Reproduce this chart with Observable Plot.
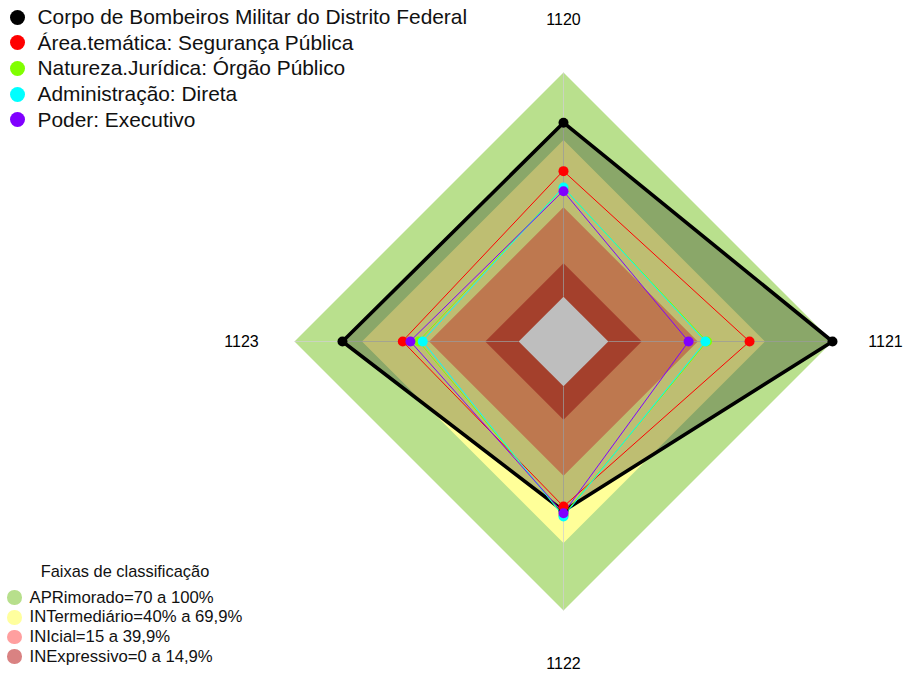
<!DOCTYPE html>
<html>
<head>
<meta charset="utf-8">
<script src="https://cdn.jsdelivr.net/npm/d3@7"></script>
<script src="https://cdn.jsdelivr.net/npm/@observablehq/plot@0.6"></script>
<style>
  body { margin: 0; background: #fff; font-family: "Liberation Sans", Arial, sans-serif; }
  #wrap { position: relative; width: 905px; height: 673px; }
  #wrap svg { position: absolute; left: 0; top: 0; }
  .leg { position: absolute; color: #111; }
  .row { display: flex; align-items: center; white-space: nowrap; }
  .dot { border-radius: 50%; flex: none; }
</style>
</head>
<body>
<div id="wrap"></div>
<script>
// ---- data ----
const axes = ["1120", "1121", "1122", "1123"];
const seriesNames = [
  "Corpo de Bombeiros Militar do Distrito Federal",
  "Área.temática: Segurança Pública",
  "Natureza.Jurídica: Órgão Público",
  "Administração: Direta",
  "Poder: Executivo"
];
const seriesColors = ["#000000", "#FF0000", "#80FF00", "#00FFFF", "#8000FF"];
const bombeiros     = [77.6, 100.0, 55.6, 78.6];
const areaTematica  = [56.0, 63.0, 53.6, 51.7];
const natureza      = [48.5, 44.0, 57.5, 44.5];
const administracao = [48.7, 43.3, 58.1, 42.8];
const poder         = [47.0, 35.8, 56.6, 48.3];
const seriesValues = [bombeiros, areaTematica, natureza, administracao, poder];

const legendTitle = "Faixas de classificação";
const bandNames = ["APRimorado=70 a 100%", "INTermediário=40% a 69,9%", "INIcial=15 a 39,9%", "INExpressivo=0 a 14,9%"];
const bandUpper = [100, 69.9, 39.9, 14.9];
const bandFill = ["#B9E08D", "#FFFF99", "#FFA16B", "#DD563C"];
const bandLegendColors = ["#B7DF8C", "#FFFF9E", "#FF9F9F", "#D98282"];

// ---- radar geometry (fmsb style: value 0 sits at 1/6 of the radius) ----
const rad = v => 1 / 6 + (5 / 6) * (v / 100);
const ang = i => i * Math.PI / 2;
const px = d => rad(d.v) * Math.sin(ang(d.i));
const py = d => rad(d.v) * Math.cos(ang(d.i));
const poly = vals => axes.map((a, i) => ({axis: a, i, v: vals[i]}));

const marks = [];
// bands
bandUpper.forEach((u, k) => {
  marks.push(Plot.line(poly(axes.map(() => u)), {x: px, y: py, fill: bandFill[k], stroke: "none", curve: "linear-closed"}));
});
marks.push(Plot.line(poly(axes.map(() => 0)), {x: px, y: py, fill: "#ffffff", stroke: "none", curve: "linear-closed"}));
// axis lines
marks.push(Plot.link(axes.map((a, i) => ({axis: a, i})), {
  x1: d => rad(0) * Math.sin(ang(d.i)), y1: d => rad(0) * Math.cos(ang(d.i)),
  x2: d => rad(100) * Math.sin(ang(d.i)), y2: d => rad(100) * Math.cos(ang(d.i)),
  stroke: "#d0d0d0", strokeOpacity: 0.75, strokeWidth: 1
}));
// series
seriesValues.forEach((vals, s) => {
  const data = poly(vals);
  if (s === 0) {
    marks.push(Plot.line(data, {x: px, y: py, fill: "#000", fillOpacity: 0.255, stroke: "#000", strokeWidth: 3.6, strokeLinejoin: "round", curve: "linear-closed"}));
  } else {
    marks.push(Plot.line(data, {x: px, y: py, stroke: seriesColors[s], strokeWidth: 1, curve: "linear-closed"}));
  }
});
seriesValues.forEach((vals, s) => {
  marks.push(Plot.dot(poly(vals), {x: px, y: py, r: 5, fill: seriesColors[s], stroke: "none"}));
});
// axis labels
marks.push(Plot.text(axes.map((a, i) => ({axis: a, i})), {
  x: d => 1.197 * Math.sin(ang(d.i)), y: d => 1.197 * Math.cos(ang(d.i)),
  text: d => d.axis, fontSize: 16, fill: "#000", textAnchor: "middle", lineAnchor: "middle"
}));

const chart = Plot.plot({
  width: 905,
  height: 673,
  x: {type: "linear", domain: [-1, 1], range: [294, 832], axis: null},
  y: {type: "linear", domain: [-1, 1], range: [610, 72], axis: null},
  style: {fontFamily: "'Liberation Sans', Arial, sans-serif", background: "#fff"},
  marks
});
const wrap = document.getElementById("wrap");
wrap.appendChild(chart);

// ---- legend 1 (series) ----
const leg1 = document.createElement("div");
leg1.className = "leg";
leg1.style.left = "10px";
leg1.style.top = "4.5px";
seriesNames.forEach((n, s) => {
  const row = document.createElement("div");
  row.className = "row";
  row.style.height = "25.6px";
  row.style.fontSize = "20.9px";
  const dot = document.createElement("span");
  dot.className = "dot";
  dot.style.width = "15px"; dot.style.height = "15px";
  dot.style.background = seriesColors[s];
  dot.style.marginRight = "12.5px";
  row.appendChild(dot);
  row.appendChild(document.createTextNode(n));
  leg1.appendChild(row);
});
wrap.appendChild(leg1);

// ---- legend 2 (bands) ----
const title = document.createElement("div");
title.className = "leg";
title.textContent = legendTitle;
title.style.fontSize = "16.4px";
title.style.left = "0px";
title.style.width = "250px";
title.style.textAlign = "center";
title.style.top = "561px";
title.style.lineHeight = "20px";
wrap.appendChild(title);

const leg2 = document.createElement("div");
leg2.className = "leg";
leg2.style.left = "7px";
leg2.style.top = "587.9px";
bandNames.forEach((n, k) => {
  const row = document.createElement("div");
  row.className = "row";
  row.style.height = "19.65px";
  row.style.fontSize = "16.7px";
  const dot = document.createElement("span");
  dot.className = "dot";
  dot.style.width = "14.5px"; dot.style.height = "14.5px";
  dot.style.background = bandLegendColors[k];
  dot.style.marginRight = "8px";
  row.appendChild(dot);
  row.appendChild(document.createTextNode(n));
  leg2.appendChild(row);
});
wrap.appendChild(leg2);
</script>
</body>
</html>
